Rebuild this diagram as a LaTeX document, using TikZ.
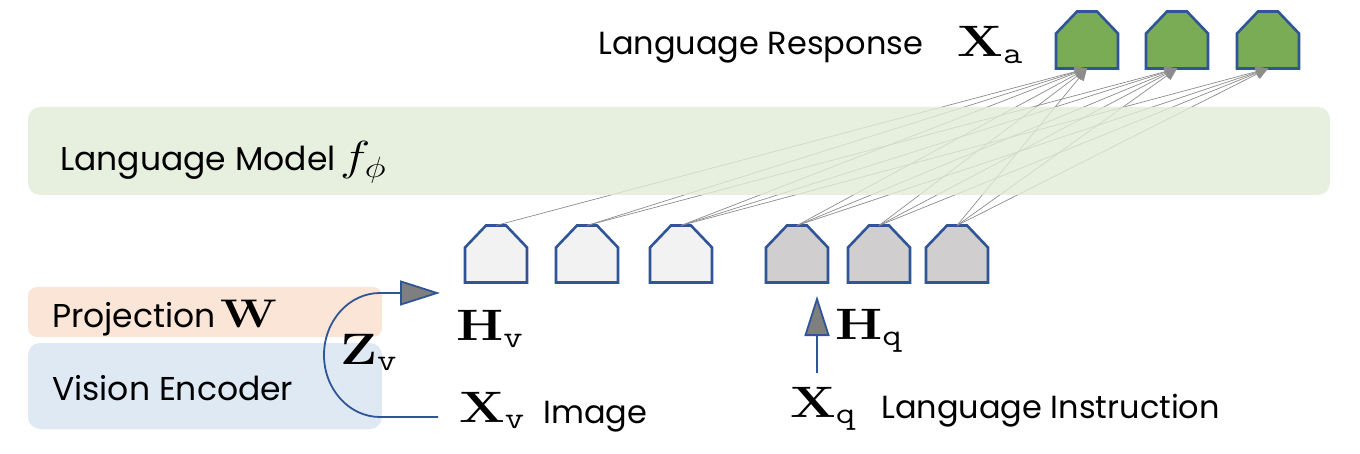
\RequirePackage{fix-cm}
\documentclass[tikz,border=0pt]{standalone}
\usepackage[no-math]{fontspec}
\setmainfont{Poppins}
\usepackage{xcolor}
\usepackage{graphicx}
\usetikzlibrary{arrows.meta}

\definecolor{tokblue}{HTML}{2F5597}
\definecolor{imgfill}{HTML}{F2F2F2}
\definecolor{qfill}{HTML}{D0CECE}
\definecolor{ansfill}{HTML}{7AAB55}
\definecolor{lmfill}{HTML}{E1ECD7}
\definecolor{projfill}{HTML}{FBE5D6}
\definecolor{encfill}{HTML}{DFE9F4}
\definecolor{linkgray}{HTML}{8C8C8C}
\definecolor{tipgray}{HTML}{7F7F7F}

% wide math symbol
\newcommand{\wm}[1]{\scalebox{1.22}[1]{$#1$}}

\begin{document}
\begin{tikzpicture}[
  x=1pt, y=-1pt,
  font=\fontsize{32}{37}\selectfont,
  tok/.style={minimum width=62pt, minimum height=57pt, inner sep=0pt, outer sep=0pt,
    append after command={\pgfextra{\draw[draw=tokblue, line width=2.6pt, fill=#1]
      (\tikzlastnode.south west) -- ([yshift=-22pt]\tikzlastnode.north west)
      -- ([xshift=21pt]\tikzlastnode.north west) -- ([xshift=-21pt]\tikzlastnode.north east)
      -- ([yshift=-22pt]\tikzlastnode.north east) -- (\tikzlastnode.south east) -- cycle;}}},
  imgtok/.style={tok=imgfill},
  qtok/.style={tok=qfill},
  anstok/.style={tok=ansfill},
  link/.style={-{Triangle[length=12pt,width=11pt]}, draw=linkgray, line width=0.7pt},
  feed/.style={-{Triangle[length=40pt,width=25pt,fill=tipgray]}, draw=tokblue, line width=1.8pt},
  band/.style={rounded corners=12pt, inner sep=0pt},
  lbl/.style={anchor=base west, inner sep=0pt},
  mth/.style={lbl, font=\fontsize{44}{48}\selectfont}
]
  \useasboundingbox (0,0) rectangle (1360,454);

  % tokens
  \node[imgtok] (h1) at (496,254) {};
  \node[imgtok] (h2) at (587,254) {};
  \node[imgtok] (h3) at (681,254) {};
  \node[qtok] (q1) at (797,254) {};
  \node[qtok] (q2) at (879,254) {};
  \node[qtok] (q3) at (957,254) {};
  \node[anstok] (a1) at (1087,40) {};
  \node[anstok] (a2) at (1177,40) {};
  \node[anstok] (a3) at (1268,40) {};

  \foreach \s in {h1,h2,h3,q1,q2,q3} \draw[link] (\s.north) -- (a1.south);
  \foreach \s in {h2,h3,q1,q2,q3} \draw[link] (\s.north) -- (a2.south);
  \foreach \s in {h3,q1,q2,q3} \draw[link] (\s.north) -- (a3.south);

  % language model
  \node[band, fill=lmfill, fill opacity=0.8, minimum width=1302pt, minimum height=88pt] (lm) at (679,151) {};
  \node[lbl, font=\fontsize{33}{38}\selectfont] (lmtext) at (60,171) {Language Model};
  \node[lbl, font=\fontsize{42}{46}\selectfont] (fphi) at (340,171) {\wm{f_\phi}};

  \node[lbl] (resp) at (598,55) {Language Response};
  \node[mth] (xa) at (957,57) {\wm{\mathbf{X}_{\mathtt{a}}}};

  % vision side
  \node[band, rounded corners=9pt, fill=projfill, minimum width=354pt, minimum height=50pt] (proj) at (205,312) {};
  \node[band, fill=encfill, minimum width=354pt, minimum height=86pt] (enc) at (205,386) {};
  \node[lbl, font=\fontsize{33}{38}\selectfont] (projtext) at (52,327) {Projection};
  \node[lbl, font=\fontsize{40}{44}\selectfont] (w) at (220,327) {\wm{\mathbf{W}}};
  \node[lbl, font=\fontsize{33}{38}\selectfont] (enctext) at (52,400) {Vision Encoder};
  \node[mth] (zv) at (340,364) {\wm{\mathbf{Z}_{\mathtt{v}}}};

  \node[mth] (hv) at (456,341) {\wm{\mathbf{H}_{\mathtt{v}}}};
  \node[mth] (xv) at (459,422) {\wm{\mathbf{X}_{\mathtt{v}}}};
  \node[lbl] (img) at (543,423) {Image};
  \coordinate (xvout) at (438,417);
  \coordinate (hvin) at (440,293);
  \draw[feed] (xvout) -- (380,417) .. controls (349,417) and (324,389) .. (324,355)
    .. controls (324,321) and (349,293) .. (380,293) -- (hvin);

  % instruction side
  \node[mth] (hq) at (835,339) {\wm{\mathbf{H}_{\mathtt{q}}}};
  \node[mth] (xq) at (790,417) {\wm{\mathbf{X}_{\mathtt{q}}}};
  \node[lbl] (instr) at (881,418) {Language Instruction};
  \coordinate (xqtop) at (817,373);
  \coordinate (hqtip) at (817,296);
  \draw[feed] (xqtop) -- (hqtip);
\end{tikzpicture}
\end{document}
